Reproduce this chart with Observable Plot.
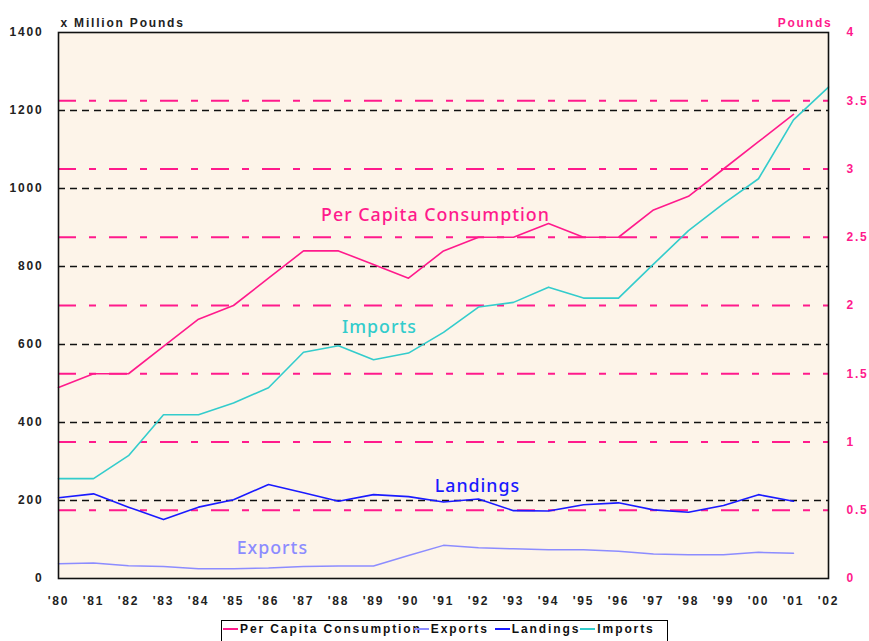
<!DOCTYPE html>
<html><head><meta charset="utf-8">
<script src="https://cdn.jsdelivr.net/npm/d3@7"></script>
<script src="https://cdn.jsdelivr.net/npm/@observablehq/plot@0.6"></script>
<style>
body{margin:0;background:#fff;width:869px;height:641px;overflow:hidden;position:relative;font-family:"Liberation Sans",Arial,sans-serif}
#chart svg text{letter-spacing:1.8px}
#legend{position:absolute;left:221px;top:620px;width:447px;height:30px;border:1.5px solid #000;box-sizing:border-box;display:flex;align-items:flex-start;padding:1px 0 0 1px;font-weight:bold;font-size:12px;letter-spacing:1.9px;white-space:nowrap;color:#111}
#legend .it{display:flex;align-items:center}
#legend .sw{display:inline-block;width:15px;height:2px;margin-right:2px;position:relative;z-index:1}
</style></head>
<body>
<div id="chart"></div>
<div id="legend"></div>
<script>
const years = [1980,1981,1982,1983,1984,1985,1986,1987,1988,1989,1990,1991,1992,1993,1994,1995,1996,1997,1998,1999,2000,2001,2002];
const consumption = [1.4,1.5,1.5,1.7,1.9,2.0,2.2,2.4,2.4,2.3,2.2,2.4,2.5,2.5,2.6,2.5,2.5,2.7,2.8,3.0,3.2,3.4];
const imports = [256,256,315,420,420,450,489,580,597,561,578,631,696,708,747,719,719,806,892,961,1025,1176,1260];
const landings = [207,217,183,151,183,202,241,220,198,215,210,196,204,174,173,189,194,176,170,187,215,198];
const exportsV = [38,40,33,31,25,25,27,31,32,32,59,85,79,76,74,74,70,63,61,61,67,65];
const leftTicks = [0,200,400,600,800,1000,1200,1400];
const leftGrid = [200,400,600,800,1000,1200];
const rightTicks = [0,0.5,1,1.5,2,2.5,3,3.5,4];
const rightGrid = [0.5,1,1.5,2,2.5,3,3.5];
const seriesNames = ["Per Capita Consumption","Exports","Landings","Imports"];
const colors = {"Per Capita Consumption":"#ff1a8c","Exports":"#8c8cff","Landings":"#1a1aff","Imports":"#33cccc"};
// in-chart labels: name, year position, value position (left-axis units)
const labelNames = ["Per Capita Consumption","Imports","Landings","Exports"];
const labelX = [1990.77,1989.17,1991.97,1986.11];
const labelY = [931,644,236,77];

const K = 350; // 1 pound on right axis = 350 million pounds on left axis
const toRows = (vals, scale=1) => vals.map((v,i)=>({year:years[i], v:v*scale}));

const chart = Plot.plot({
  width: 869, height: 615,
  marginLeft: 58, marginRight: 41, marginTop: 32, marginBottom: 37,
  style: {fontFamily:"'Liberation Sans', Arial, sans-serif", fontSize:"12px", fontWeight:"bold", background:"white", overflow:"visible", color:"#222"},
  x: {domain:[1980,2002]},
  y: {domain:[0,1400]},
  marks: [
    Plot.frame({fill:"#fdf4e9", stroke:null}),
    Plot.ruleY(leftGrid, {stroke:"#111", strokeWidth:1.6, strokeDasharray:"7,5"}),
    Plot.ruleY(rightGrid.map(d=>d*K), {stroke:"#ff1a8c", strokeWidth:2, strokeDasharray:"18,13,7,13"}),
    Plot.axisX({ticks: years, tickFormat: d=>"'"+String(d).slice(2), tickSize:0, tickPadding:18, label:null, fontSize:12}),
    Plot.axisY({anchor:"left", ticks:leftTicks, tickFormat:d=>String(d), tickSize:0, tickPadding:15, label:null, fontSize:12}),
    Plot.axisY({anchor:"right", ticks:rightTicks.map(d=>d*K), tickFormat:d=>String(d/K), tickSize:0, tickPadding:18, label:null, fill:"#ff1a8c", fontSize:12}),
    Plot.line(toRows(exportsV), {x:"year", y:"v", stroke:colors["Exports"], strokeWidth:1.5}),
    Plot.line(toRows(landings), {x:"year", y:"v", stroke:colors["Landings"], strokeWidth:1.6}),
    Plot.line(toRows(imports), {x:"year", y:"v", stroke:colors["Imports"], strokeWidth:1.6}),
    Plot.line(toRows(consumption, K), {x:"year", y:"v", stroke:colors["Per Capita Consumption"], strokeWidth:1.6}),
    Plot.frame({stroke:"#111", strokeWidth:1.6}),
    Plot.text(labelNames, {x:(d,i)=>labelX[i], y:(d,i)=>labelY[i], text:d=>d, fill:d=>colors[d], fontSize:17.8, fontWeight:500, fontFamily:"'Noto Sans', sans-serif"}),
    Plot.text(["x Million Pounds"], {frameAnchor:"top-left", textAnchor:"start", dx:2, dy:-14, fill:"#222", fontSize:12, fontWeight:"bold"}),
    Plot.text(["Pounds"], {frameAnchor:"top-right", textAnchor:"end", dx:4, dy:-14, fill:"#ff1a8c", fontSize:12, fontWeight:"bold"})
  ]
});
document.getElementById("chart").append(chart);
// in-chart series labels use a tighter letter spacing than the axis text
d3.select(chart).selectAll('g[aria-label="text"]').filter((d,i)=>i===0).selectAll("text").style("letter-spacing","1px");

const legend = document.getElementById("legend");
seriesNames.forEach((n,i)=>{
  const it = document.createElement("span"); it.className="it";
  if (i===1) it.style.marginLeft = "-8px";
  if (i===2) it.style.marginLeft = "6px";
  const sw = document.createElement("span"); sw.className="sw"; sw.style.background = colors[n];
  const tx = document.createElement("span"); tx.textContent = n;
  it.append(sw, tx); legend.append(it);
});
</script>
</body></html>
